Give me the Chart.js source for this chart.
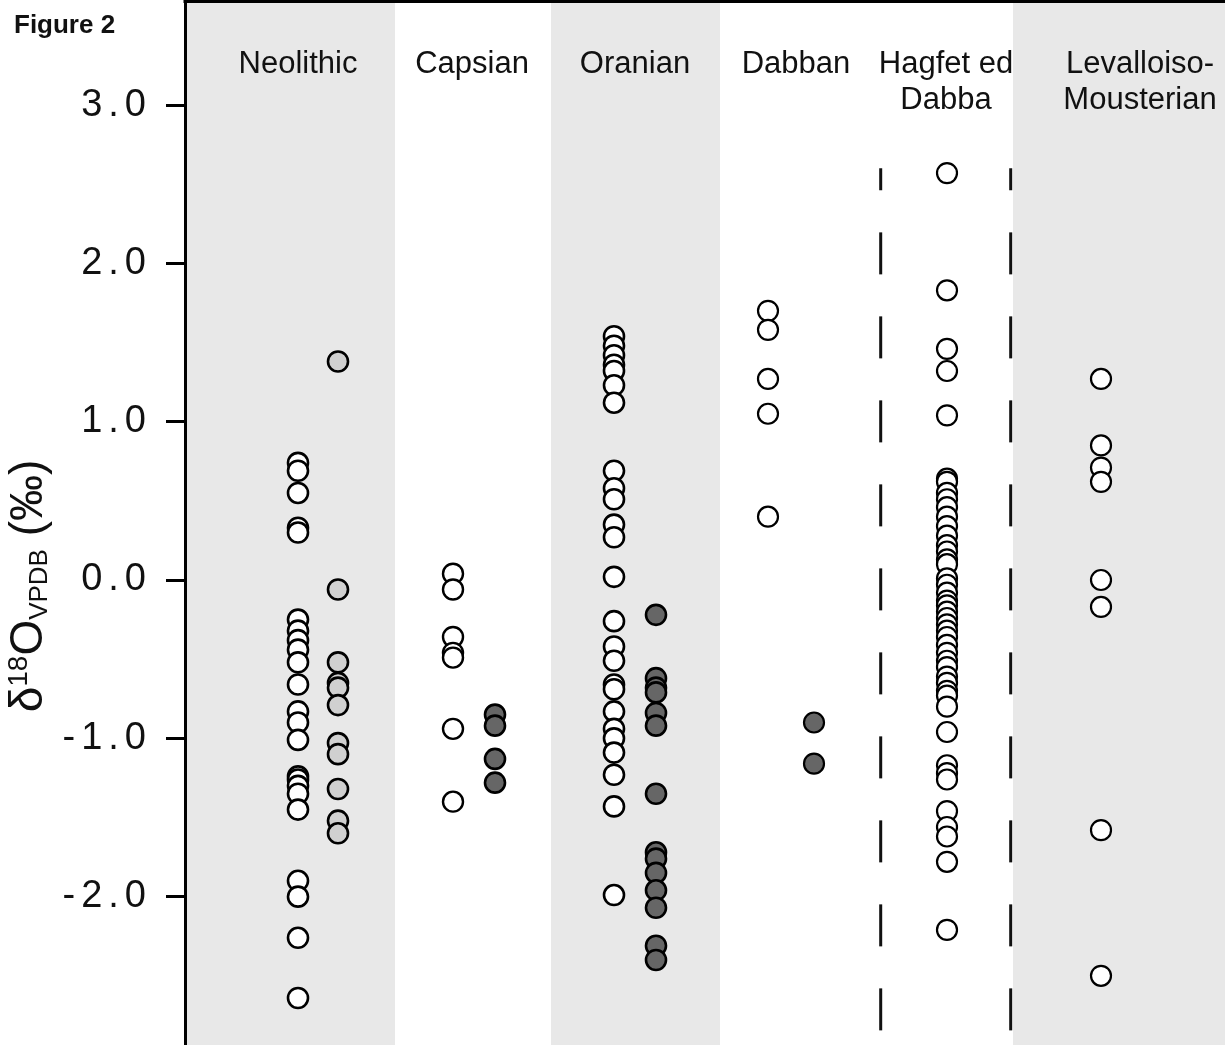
<!DOCTYPE html>
<html>
<head>
<meta charset="utf-8">
<script src="https://cdn.jsdelivr.net/npm/chart.js@4.4.1/dist/chart.umd.min.js"></script>
<style>
  html, body { margin: 0; padding: 0; background: #fff; }
  canvas { display: block; }
</style>
</head>
<body>
<canvas id="chart" width="1225" height="1045"></canvas>
<script>
// Cultural periods shown as columns across the top
const periods = ['Neolithic', 'Capsian', 'Oranian', 'Dabban', 'Hagfet ed\nDabba', 'Levalloiso-\nMousterian'];

// Tick values of the δ18O axis (‰)
const tickValues = [-2, -1, 0, 1, 2, 3];

// δ18O (‰ VPDB) measurements, open (white) and filled (grey) series per period
const neolithicOpen   = [0.74, 0.69, 0.55, 0.33, 0.30, -0.25, -0.32, -0.38, -0.44, -0.52, -0.66, -0.83, -0.90, -1.01, -1.24, -1.26, -1.30, -1.35, -1.45, -1.90, -2.00, -2.26, -2.64];
const neolithicFilled = [1.38, -0.06, -0.52, -0.65, -0.68, -0.79, -1.03, -1.10, -1.32, -1.52, -1.60];
const capsianOpen     = [0.04, -0.06, -0.36, -0.46, -0.49, -0.94, -1.40];
const capsianFilled   = [-0.85, -0.92, -1.13, -1.28];
const oranianOpen     = [1.54, 1.48, 1.42, 1.36, 1.32, 1.23, 1.12, 0.69, 0.58, 0.51, 0.35, 0.27, 0.02, -0.26, -0.42, -0.51, -0.66, -0.69, -0.83, -0.94, -1.00, -1.09, -1.23, -1.43, -1.99];
const oranianFilled   = [-0.22, -0.62, -0.68, -0.71, -0.84, -0.92, -1.35, -1.72, -1.76, -1.85, -1.96, -2.07, -2.31, -2.40];
const dabbanOpen      = [1.70, 1.58, 1.27, 1.05, 0.40];
const dabbanFilled    = [-0.90, -1.16];
const hagfetOpen      = [2.57, 1.83, 1.46, 1.32, 1.04, 0.64, 0.62, 0.55, 0.51, 0.46, 0.40, 0.34, 0.28, 0.22, 0.18, 0.13, 0.10, 0.01, -0.03, -0.08, -0.13, -0.16, -0.20, -0.24, -0.28, -0.32, -0.36, -0.41, -0.46, -0.51, -0.55, -0.61, -0.65, -0.70, -0.73, -0.80, -0.96, -1.17, -1.22, -1.26, -1.46, -1.56, -1.62, -1.78, -2.21];
const levalloisOpen   = [1.27, 0.85, 0.71, 0.62, 0.00, -0.17, -1.58, -2.50];

// Upper end of the dashed range markers around Hagfet ed Dabba (‰)
const hagfetRangeTop = 2.6;

// ---- layout (horizontal axis units) ----
const X_MAX = 10.4;
const Y_MIN = -2.937, Y_MAX = 3.654;
const labelCenters = [1.13, 2.87, 4.50, 6.11, 7.61, 9.55];
const shadedBands = [[0, 2.10], [3.66, 5.35], [8.28, X_MAX]];
const markerLinesX = [6.957, 8.257];

const FONT = '"Liberation Sans", Arial, Helvetica, sans-serif';
const WHITE = '#ffffff', LIGHT = '#d0d0d0', DARK = '#666666';

function pointSeries(values, x, fill, border) {
  return {
    type: 'scatter',
    data: values.map(v => ({ x: x, y: v })),
    backgroundColor: fill,
    borderColor: '#000',
    pointRadius: 10,
    pointBorderWidth: border,
    pointHoverRadius: 10
  };
}

function markerLine(x) {
  return {
    type: 'line',
    data: [{ x: x, y: hagfetRangeTop }, { x: x, y: Y_MIN }],
    borderColor: '#111',
    borderWidth: 3,
    borderDash: [42, 42],
    borderDashOffset: 20,
    pointRadius: 0,
    fill: false
  };
}

const datasets = [
  pointSeries(neolithicOpen, 1.13, WHITE, 2.6),
  pointSeries(neolithicFilled, 1.53, LIGHT, 2.6),
  pointSeries(capsianOpen, 2.68, WHITE, 2.4),
  pointSeries(capsianFilled, 3.10, DARK, 2.6),
  pointSeries(oranianOpen, 4.29, WHITE, 2.6),
  pointSeries(oranianFilled, 4.71, DARK, 2.6),
  pointSeries(dabbanOpen, 5.83, WHITE, 2.2),
  pointSeries(dabbanFilled, 6.29, DARK, 2.2),
  pointSeries(hagfetOpen, 7.62, WHITE, 2.2),
  pointSeries(levalloisOpen, 9.16, WHITE, 2.2),
  markerLine(markerLinesX[0]),
  markerLine(markerLinesX[1])
];

const decor = {
  id: 'decor',
  beforeDraw(chart) {
    const { ctx, chartArea: a, scales: { x } } = chart;
    ctx.save();
    ctx.fillStyle = '#e8e8e8';
    shadedBands.forEach(([l, r]) => {
      const x1 = x.getPixelForValue(l), x2 = x.getPixelForValue(r);
      ctx.fillRect(x1, a.top, x2 - x1, a.bottom - a.top);
    });
    ctx.restore();
    // spaced-out digits on the value axis
    ctx.letterSpacing = '6px';
  },
  beforeDatasetsDraw(chart) {
    chart.ctx.letterSpacing = '0px';
  },
  afterDraw(chart) {
    const { ctx, chartArea: a, scales: { x } } = chart;
    ctx.save();
    ctx.letterSpacing = '0px';

    // frame line along the top
    ctx.strokeStyle = '#000';
    ctx.lineWidth = 3;
    ctx.beginPath();
    ctx.moveTo(a.left - 1.5, a.top);
    ctx.lineTo(a.right, a.top);
    ctx.stroke();

    // period names
    ctx.fillStyle = '#111';
    ctx.font = '31px ' + FONT;
    ctx.textAlign = 'center';
    ctx.textBaseline = 'alphabetic';
    periods.forEach((p, i) => {
      const cx = x.getPixelForValue(labelCenters[i]);
      p.split('\n').forEach((line, j) => ctx.fillText(line, cx, 73 + j * 36));
    });

    // figure caption
    ctx.textAlign = 'left';
    ctx.font = 'bold 26px ' + FONT;
    ctx.fillText('Figure 2', 14, 33);

    // axis title: δ18O VPDB (‰) with super/subscripts
    const parts = [
      { t: 'δ', size: 46, dy: 0 },
      { t: '18', size: 28, dy: -15 },
      { t: 'O', size: 46, dy: 0 },
      { t: 'VPDB', size: 26, dy: 5 },
      { t: ' (‰)', size: 46, dy: 0 }
    ];
    let total = 0;
    parts.forEach(p => { ctx.font = p.size + 'px ' + FONT; p.w = ctx.measureText(p.t).width; total += p.w; });
    ctx.translate(42, 586);
    ctx.rotate(-Math.PI / 2);
    let px = -total / 2;
    parts.forEach(p => {
      ctx.font = p.size + 'px ' + FONT;
      ctx.fillText(p.t, px, p.dy);
      px += p.w;
    });
    ctx.restore();
  }
};

new Chart(document.getElementById('chart'), {
  type: 'scatter',
  data: { datasets },
  plugins: [decor],
  options: {
    responsive: false,
    animation: false,
    devicePixelRatio: 1,
    layout: { autoPadding: false, padding: { top: 1.5, left: 0, right: 0, bottom: 0 } },
    plugins: { legend: { display: false }, tooltip: { enabled: false } },
    scales: {
      x: { type: 'linear', min: 0, max: X_MAX, display: false },
      y: {
        type: 'linear',
        min: Y_MIN,
        max: Y_MAX,
        afterFit(scale) {
          scale.width = 185;
          scale.paddingTop = 0;
          scale.paddingBottom = 0;
        },
        afterBuildTicks(scale) { scale.ticks = tickValues.map(v => ({ value: v })); },
        ticks: {
          callback: v => Number(v).toFixed(1),
          font: { size: 38, family: FONT },
          color: '#111',
          padding: 14
        },
        grid: { drawOnChartArea: false, tickLength: 19, tickWidth: 3, tickColor: '#000' },
        border: { display: true, width: 3, color: '#000' }
      }
    }
  }
});
</script>
</body>
</html>
